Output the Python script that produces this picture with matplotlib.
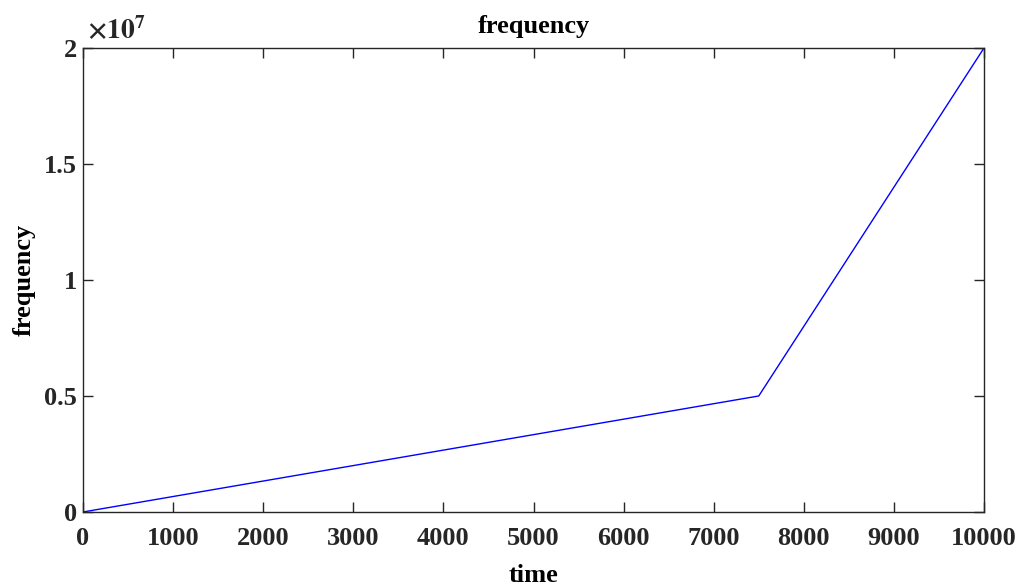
import matplotlib.pyplot as plt
from matplotlib.ticker import FuncFormatter

# chirp-like piecewise frequency sweep
time = [0, 7500, 10000]
freq = [0, 5e6, 2e7]
xticks = [0, 1000, 2000, 3000, 4000, 5000, 6000, 7000, 8000, 9000, 10000]
yticks = [0, 0.5e7, 1e7, 1.5e7, 2e7]

plt.rcParams['font.family'] = 'Liberation Serif'
plt.rcParams['font.weight'] = 'bold'
plt.rcParams['mathtext.fontset'] = 'stix'

fig = plt.figure(figsize=(10.2, 5.88), dpi=100)
ax = fig.add_axes([0.0814, 0.1293, 0.8833, 0.7891])

ax.plot(time, freq, color='#0000ff', lw=1.0)
ax.set_xlim(0, 10000)
ax.set_ylim(0, 2e7)
ax.set_xticks(xticks)
ax.set_yticks(yticks)
ax.yaxis.set_major_formatter(FuncFormatter(lambda v, p: '%g' % (v / 1e7)))

edge = '#262626'
for s in ax.spines.values():
    s.set_color(edge)
    s.set_linewidth(1.0)
ax.tick_params(direction='in', top=True, right=True, length=7, width=1.0,
               color=edge, labelcolor=edge, labelsize=19)
ax.tick_params(axis='x', pad=11)
ax.tick_params(axis='y', pad=4.5)

ax.set_title('frequency', fontsize=19, fontweight='bold', pad=11)
ax.set_xlabel('time', fontsize=19, fontweight='bold', labelpad=10)
ax.set_ylabel('frequency', fontsize=19, fontweight='bold', labelpad=6)
ax.text(0.004, 1.006, r'$\times10^{7}$', transform=ax.transAxes, fontsize=20,
        color=edge, ha='left', va='bottom')

fig.savefig('out.png', dpi=100)
